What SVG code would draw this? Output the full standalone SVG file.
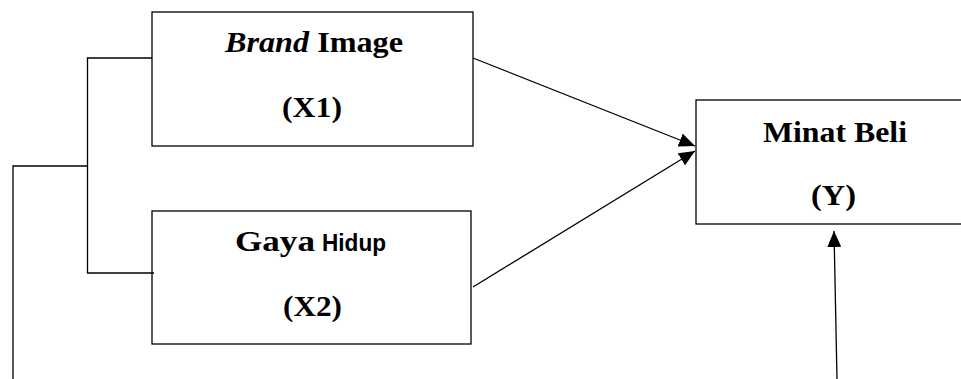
<svg xmlns="http://www.w3.org/2000/svg" width="961" height="379" viewBox="0 0 961 379">
<style>
.box{fill:#fff;stroke:#000;stroke-width:1.3}
.ln{fill:none;stroke:#000;stroke-width:1.3}
.t{font-family:"Liberation Serif","Times New Roman",serif;font-weight:bold;font-size:30px;fill:#000}
.s{font-family:"Liberation Sans",Arial,sans-serif;font-weight:bold;font-size:24px;fill:#000}
</style>
<defs>
<marker id="ah" markerWidth="16" markerHeight="14" refX="16" refY="7" orient="auto" markerUnits="userSpaceOnUse">
<path d="M0,0 L16,7 L0,14 Z" fill="#000"/>
</marker>
</defs>
<rect width="961" height="379" fill="#fff"/>
<g id="x1">
<rect class="box" x="152" y="12" width="321" height="134"/>
<text class="t" x="225" y="52" textLength="178" lengthAdjust="spacingAndGlyphs"><tspan font-style="italic">Brand</tspan> Image</text>
<text class="t" x="282" y="117" textLength="60" lengthAdjust="spacingAndGlyphs">(X1)</text>
</g>
<g id="x2">
<rect class="box" x="152" y="211" width="319" height="133"/>
<text class="t" x="235" y="251" textLength="80" lengthAdjust="spacingAndGlyphs">Gaya</text>
<text class="s" x="322" y="251" textLength="64" lengthAdjust="spacingAndGlyphs">Hidup</text>
<text class="t" x="283" y="316" textLength="59" lengthAdjust="spacingAndGlyphs">(X2)</text>
</g>
<g id="y">
<rect class="box" x="696" y="100" width="280" height="124"/>
<text class="t" x="763" y="142" textLength="144" lengthAdjust="spacingAndGlyphs">Minat Beli</text>
<text class="t" x="811" y="205" textLength="45" lengthAdjust="spacingAndGlyphs">(Y)</text>
</g>
<g id="connectors">
<polyline class="ln" points="152,58 87.5,58 87.5,273 154,273"/>
<polyline class="ln" points="87.5,166 13,166 13,379"/>
<line class="ln" x1="473" y1="58" x2="695" y2="146" marker-end="url(#ah)"/>
<line class="ln" x1="473" y1="287" x2="695" y2="151" marker-end="url(#ah)"/>
<line class="ln" x1="837" y1="379" x2="834" y2="231" marker-end="url(#ah)"/>
</g>
</svg>
